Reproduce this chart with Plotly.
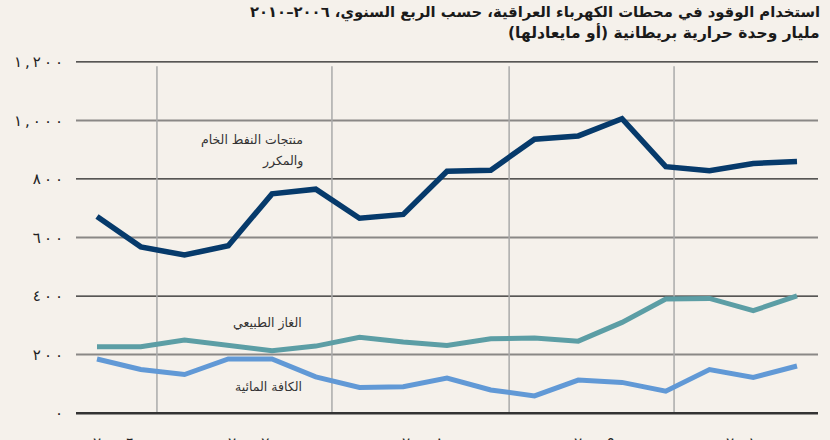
import plotly.graph_objects as go

# Quarterly index (17 quarters)
quarters = list(range(17))

crude_refined = [672, 568, 540, 572, 749, 765, 666, 679, 826, 830, 936, 947, 1006, 842, 828, 853, 860]
natural_gas = [227, 227, 250, 231, 213, 229, 259, 243, 231, 254, 257, 246, 310, 390, 392, 350, 401]
hydro = [185, 149, 132, 185, 185, 124, 88, 90, 120, 79, 59, 113, 105, 75, 149, 122, 161]

y_ticks = [0, 200, 400, 600, 800, 1000, 1200]
y_tick_text = ["٠", "٢٠٠", "٤٠٠", "٦٠٠", "٨٠٠", "١,٠٠٠", "١,٢٠٠"]

year_labels = ["٢٠٠٦", "٢٠٠٧", "٢٠٠٨", "٢٠٠٩", "٢٠١٠"]
year_label_pos = [0.38, 3.47, 7.45, 11.36, 14.84]
year_bounds = [1.37, 5.37, 9.42, 13.19]

title_1 = "استخدام الوقود في محطات الكهرباء العراقية، حسب الربع السنوي، ٢٠٠٦–٢٠١٠"
title_2 = "مليار وحدة حرارية بريطانية (أو مايعادلها)"

BG = "#f5f1eb"
FONT = "DejaVu Sans"


def spaced(s):
    return "\u200e\u2009".join(list(s))


def rtl(s):
    return "\u200f" + s + "\u200f"


fig = go.Figure()
fig.add_trace(go.Scatter(x=quarters, y=crude_refined, mode="lines",
                         line=dict(color="#063a6b", width=5.5), hoverinfo="skip"))
fig.add_trace(go.Scatter(x=quarters, y=natural_gas, mode="lines",
                         line=dict(color="#5c9ea5", width=5), hoverinfo="skip"))
fig.add_trace(go.Scatter(x=quarters, y=hydro, mode="lines",
                         line=dict(color="#6199d6", width=5), hoverinfo="skip"))

shapes = []
for i, v in enumerate(y_ticks):
    if v == 0:
        shapes.append(dict(type="line", xref="paper", yref="y", x0=0, x1=1, y0=v, y1=v,
                           line=dict(color="#333333", width=2.5), layer="above"))
    elif i % 2 == 0:
        shapes.append(dict(type="line", xref="paper", yref="y", x0=0, x1=1, y0=v, y1=v,
                           line=dict(color="#222222", width=1.2), layer="below"))
    else:
        shapes.append(dict(type="line", xref="paper", yref="y", x0=0, x1=1, y0=v, y1=v,
                           line=dict(color="#8a8886", width=2), layer="below"))
for b in year_bounds:
    shapes.append(dict(type="line", xref="x", yref="y", x0=b, x1=b, y0=0, y1=1185,
                       line=dict(color="#aaaaaa", width=1.5), layer="below"))

annotations = [
    dict(text=rtl(title_1), xref="paper", yref="paper", x=1.0054, y=1.1212,
         xanchor="right", yanchor="middle", showarrow=False,
         font=dict(family=FONT, size=14.8, color="#1a1a1a", weight="bold")),
    dict(text=rtl(title_2), xref="paper", yref="paper", x=1.0054, y=1.0634,
         xanchor="right", yanchor="middle", showarrow=False,
         font=dict(family=FONT, size=15.5, color="#1a1a1a", weight="bold")),
    dict(text=rtl("منتجات النفط الخام"), xref="x", yref="y", x=(305 - 97) / 43.75, y=(413 - 140) / 0.2925,
         xanchor="right", yanchor="middle", showarrow=False,
         font=dict(family=FONT, size=12.5, color="#333333")),
    dict(text=rtl("والمكرر"), xref="x", yref="y", x=(305 - 97) / 43.75, y=(413 - 161) / 0.2925,
         xanchor="right", yanchor="middle", showarrow=False,
         font=dict(family=FONT, size=12.5, color="#333333")),
    dict(text=rtl("الغاز الطبيعي"), xref="x", yref="y", x=(304 - 97) / 43.75, y=(413 - 323) / 0.2925,
         xanchor="right", yanchor="middle", showarrow=False,
         font=dict(family=FONT, size=12.5, color="#333333")),
    dict(text=rtl("الكافة المائية"), xref="x", yref="y", x=(304 - 97) / 43.75, y=(413 - 386) / 0.2925,
         xanchor="right", yanchor="middle", showarrow=False,
         font=dict(family=FONT, size=12.5, color="#333333")),
]
for lab, pos in zip(year_labels, year_label_pos):
    annotations.append(dict(text=spaced(lab), xref="x", yref="paper", x=pos, y=-0.035,
                            xanchor="center", yanchor="top", showarrow=False,
                            font=dict(family=FONT, size=15, color="#222222")))

fig.update_layout(
    width=830, height=440,
    margin=dict(l=76, r=12, t=56, b=21),
    paper_bgcolor=BG, plot_bgcolor=BG,
    showlegend=False,
    shapes=shapes,
    annotations=annotations,
    xaxis=dict(range=[-0.48, 16.48], showgrid=False, zeroline=False, showticklabels=False,
               showline=False, ticks=""),
    yaxis=dict(range=[-20, 1220], tickvals=y_ticks, ticktext=[spaced(t) for t in y_tick_text],
               showgrid=False, zeroline=False, showline=False, ticks="",
               ticklabelstandoff=12,
               tickfont=dict(family=FONT, size=15, color="#222222")),
)

fig.write_html("out.html", config={"displayModeBar": False},
               post_script="document.body.style.margin='0';document.body.style.background='" + BG + "';")
